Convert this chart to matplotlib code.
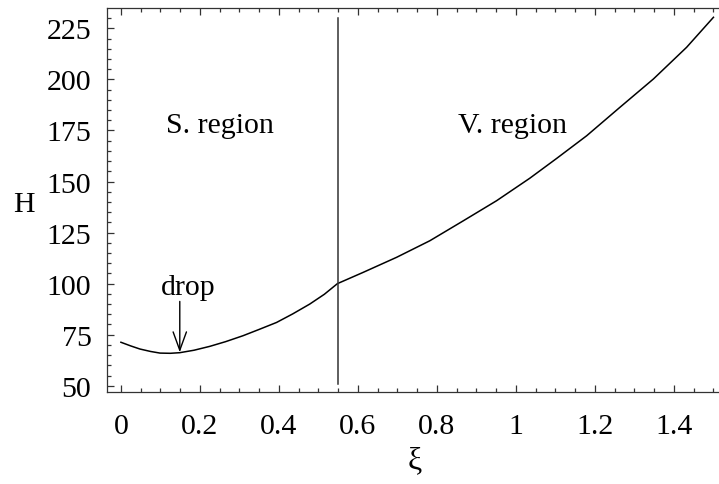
import matplotlib
matplotlib.use("Agg")
import matplotlib.pyplot as plt
from matplotlib.ticker import MultipleLocator, FixedLocator

# curve (xi, H), S. region then V. region
xi_s = [0.0, 0.025, 0.048, 0.075, 0.099, 0.125, 0.149, 0.185, 0.225, 0.265,
        0.309, 0.35, 0.394, 0.435, 0.478, 0.515, 0.548]
H_s = [71.3, 69.5, 68.0, 66.8, 66.0, 65.9, 66.2, 67.4, 69.3, 71.6,
       74.5, 77.6, 81.0, 85.2, 90.0, 94.8, 100.0]
xi_v = [0.548, 0.613, 0.698, 0.782, 0.867, 0.951, 1.035, 1.103, 1.179,
        1.263, 1.348, 1.432, 1.5]
H_v = [100.0, 105.5, 112.9, 121.0, 130.8, 140.6, 151.6, 161.3, 172.4,
       186.3, 200.2, 215.7, 230.4]

# boundary between the two regions
xi_boundary = 0.55
H_boundary = [51, 230]

x_ticks = [0, 0.2, 0.4, 0.6, 0.8, 1, 1.2, 1.4]
x_labels = ["0", "0.2", "0.4", "0.6", "0.8", "1", "1.2", "1.4"]
y_ticks = [50, 75, 100, 125, 150, 175, 200, 225]

plt.rcParams['font.family'] = ['Liberation Serif', 'DejaVu Serif']

fig = plt.figure(figsize=(7.19, 4.85), dpi=100)
ax = fig.add_axes([106.7 / 719, 1 - 392.7 / 485, 1 - 106.7 / 719, (392.7 - 9.3) / 485])

ax.plot(xi_s + xi_v[1:], H_s + H_v[1:], color='black', lw=1.1)
ax.plot([xi_boundary, xi_boundary], H_boundary, color='#333333', lw=1.1)

ax.text(0.25, 177.5, "S. region", fontsize=21.5, ha='center', va='center')
ax.text(0.99, 177.5, "V. region", fontsize=21.5, ha='center', va='center')
ax.text(0.17, 98.5, "drop", fontsize=21.5, ha='center', va='center')
ax.annotate("", xy=(0.149, 66.4), xytext=(0.149, 91.3),
            arrowprops=dict(arrowstyle='->,head_length=0.55,head_width=0.2',
                            color='black', lw=1.0,
                            mutation_scale=24, shrinkA=0, shrinkB=0))

ax.set_xlim(-0.036, 1.514)
ax.set_ylim(47.1, 234.8)

ax.xaxis.set_major_locator(FixedLocator(x_ticks))
ax.set_xticklabels(x_labels)
ax.xaxis.set_minor_locator(MultipleLocator(0.05))
ax.yaxis.set_major_locator(FixedLocator(y_ticks))
ax.yaxis.set_minor_locator(MultipleLocator(5))

ax.tick_params(which='both', direction='in', top=True, right=False,
               labelsize=21.5, color='#333333', width=0.9)
ax.tick_params(which='major', length=5)
ax.tick_params(which='minor', length=3)
ax.tick_params(axis='x', which='major', pad=15)
ax.tick_params(axis='y', which='major', pad=11)

for s in ['left', 'bottom', 'top']:
    ax.spines[s].set_color('#333333')
    ax.spines[s].set_linewidth(0.9)
ax.spines['right'].set_visible(False)

fig.text(24 / 719, 1 - 205 / 485, "H", fontsize=21.5, ha='center', va='center')
fig.text(415 / 719, 1 - 461 / 485, "ξ", fontsize=23, ha='center', va='center')

fig.savefig("out.png", dpi=100)
